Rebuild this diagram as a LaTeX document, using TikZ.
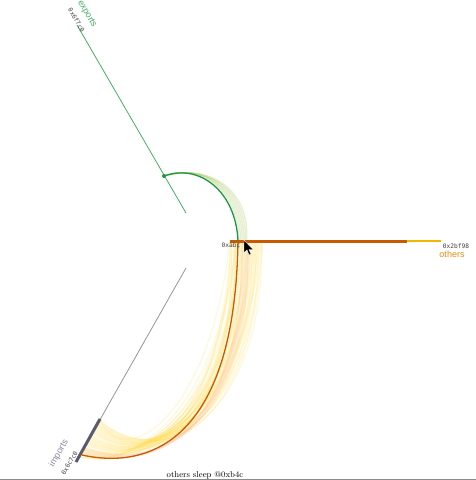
\documentclass[tikz,border=0pt]{standalone}
\usepackage{fontspec}
\usetikzlibrary{calc}
\newfontfamily\sansf{Liberation Sans}
\newfontfamily\monof{DejaVu Sans Mono}
\definecolor{axgreen}{RGB}{70,175,100}
\definecolor{lkgreen}{RGB}{30,150,70}
\definecolor{orng}{RGB}{200,90,0}
\definecolor{axorange}{RGB}{240,185,0}
\definecolor{lblorange}{RGB}{230,140,20}
\definecolor{axgray}{RGB}{150,150,150}
\definecolor{thickgray}{RGB}{90,90,110}
\definecolor{fanyellow}{RGB}{255,220,70}
\definecolor{fanpink}{RGB}{250,180,150}
\begin{document}
\begin{tikzpicture}[x=1pt,y=-1pt,
  fan/.style={fanyellow,line width=1.1pt,opacity=0.2},
  pfan/.style={fanpink,line width=1.6pt,opacity=0.22},
  gfan/.style={fanyellow!50!axgreen,line width=1.4pt,opacity=0.25},
  mono/.style={font=\monof\fontsize{6.2}{7}\selectfont,text=black!75,inner sep=0pt},
  sanslbl/.style={font=\sansf\fontsize{9}{10}\selectfont,inner sep=0pt}]
\useasboundingbox (0,0) rectangle (476,480);
\fill[white] (0,0) rectangle (476,480);
% axis end points
\coordinate (U0) at (186,213);
\coordinate (U1) at (77,25);
\coordinate (R0) at (230,241);
\coordinate (R1) at (441,241);
\coordinate (RT) at (407,241);
\coordinate (L0) at (186,268);
\coordinate (L1) at (76,462);
\coordinate (LT) at (100,419);
% yellow fan
\foreach \i in {0,...,41}{
  \pgfmathsetmacro\sx{230+mod(\i*13,33)}
  \pgfmathsetmacro\t{0.78+mod(\i*7,22)*0.0092}
  \pgfmathsetmacro\cx{\sx-22+mod(\i*11,31)}
  \pgfmathsetmacro\dx{120+mod(\i*17,50)}
  \coordinate (E\i) at ($(L0)!\t!(L1)$);
  \coordinate (S\i) at (\sx,241);
  \draw[fan] (S\i) .. controls (\cx,428) and (\dx,470) .. (E\i);
}
\foreach \i in {0,...,3}{
  \coordinate (P\i) at ($(L0)!0.93+\i*0.01!(L1)$);
  \coordinate (Q\i) at (243+\i*2,241);
  \draw[pfan] (Q\i) .. controls (242+\i*2,435) and (155,472) .. (P\i);
}
\coordinate (gs) at (164,176);
\foreach \i in {0,...,5}{
  \coordinate (H\i) at (239+\i*1.5,241);
  \draw[gfan] (gs) .. controls (202+\i*1.5,163) and (238+\i*2.5,190) .. (H\i);
}
% axes
\draw[axgreen,line width=0.8pt] (U0) -- (U1);
\draw[axorange,line width=1.1pt] (R0) -- (R1);
\draw[orng,line width=3pt] (R0) -- (RT);
\draw[axgray,line width=0.8pt] (L0) -- (L1);
\draw[thickgray,line width=3pt] (LT) -- (L1);
% links
\coordinate (ge) at (238,241);
\coordinate (oe) at (82,455);
\draw[lkgreen,line width=1.3pt] (gs) .. controls (200,163) and (236,192) .. (ge);
\fill[lkgreen] (gs) circle (2pt);
\draw[orng,line width=1.3pt] (ge) .. controls (235,440) and (150,470) .. (oe);
% labels
\node[sanslbl,text=axgreen,rotate=-60] (lexp) at (87,14) {exports};
\node[mono,rotate=-60] (lexpn) at (76.5,20) {0x6f7c0};
\node[sanslbl,text=axgray!90!blue,rotate=60] (limp) at (59,453.5) {imports};
\node[mono,rotate=60] (limpn) at (69.5,463) {0x6c7c0};
\node[mono] (lstart) at (231,245) {0xabc};
\node[mono] (lend) at (456,246) {0x2bf98};
\node[sanslbl,text=lblorange] (loth) at (452,254) {others};
% cursor
\filldraw[black,draw=white,line width=0.4pt] (244,240) -- (244,253) -- (247,250) -- (249,255) -- (251,254) -- (249,249.5) -- (253,249.5) -- cycle;
% footer
\node[font=\fontsize{8.5}{9}\selectfont,inner sep=0pt] (foot) at (205,475.5) {others sleep @0xb4c};
\draw[black!45,line width=0.8pt] (0,479.6) -- (476,479.6);
\end{tikzpicture}
\end{document}
